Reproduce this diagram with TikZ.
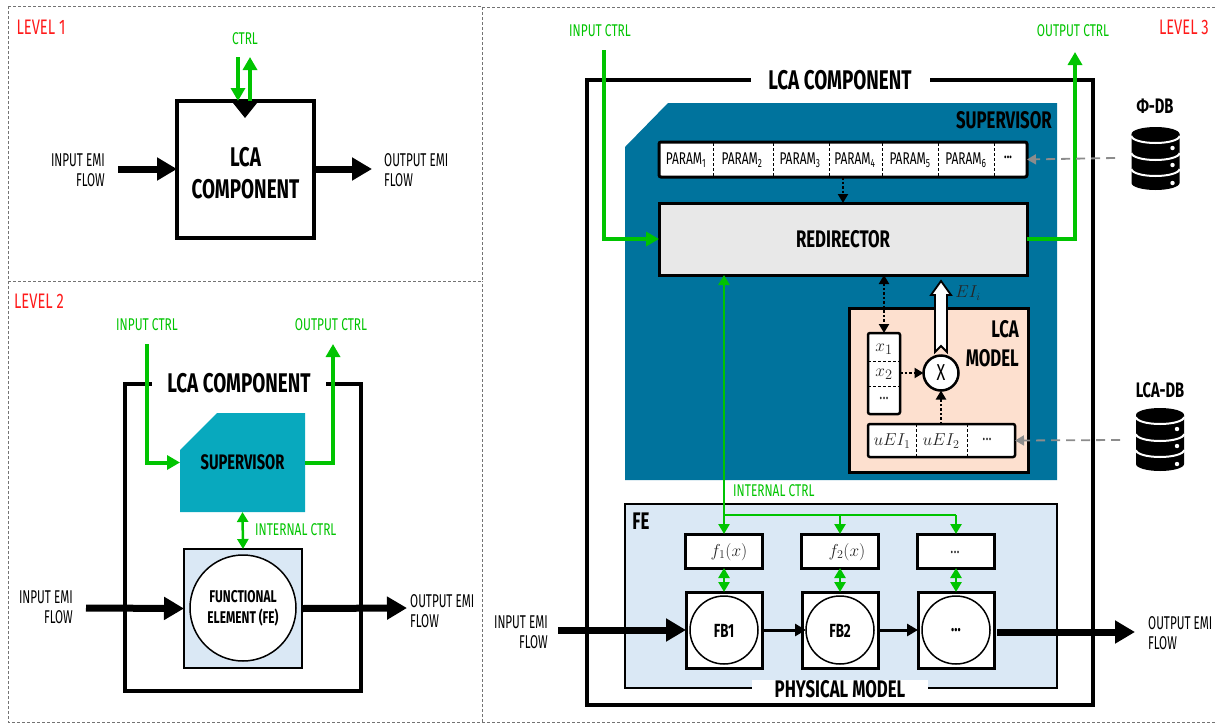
\documentclass[tikz,border=0pt]{standalone}
\usepackage{amsmath}
\usepackage{fontspec}
\setmainfont[FakeStretch=0.7]{Fira Sans}
\newfontfamily\narrowfont[FakeStretch=0.63]{Fira Sans}
\usetikzlibrary{arrows.meta}
\definecolor{ctrlgreen}{HTML}{00C400}
\definecolor{levelred}{HTML}{FF1A1A}
\definecolor{supera}{HTML}{08A9BE}
\definecolor{superb}{HTML}{00739D}
\definecolor{febg}{HTML}{DAE8F5}
\definecolor{lcabg}{HTML}{FDE0CF}
\definecolor{dbgrey}{HTML}{8C8C8C}
\tikzset{
  frame/.style={draw=black!55, line width=0.8pt, dash pattern=on 3pt off 2pt},
  txt/.style={font=\narrowfont\fontsize{18.5}{20}\selectfont, inner sep=0pt},
  txtb/.style={font=\fontsize{24}{29}\selectfont\bfseries, inner sep=0pt},
  level/.style={font=\fontsize{21}{22}\selectfont, text=levelred, inner sep=0pt},
  ctrltxt/.style={font=\fontsize{17}{20}\selectfont, text=ctrlgreen, inner sep=0pt},
  mathtxt/.style={inner sep=0pt, text=black!85, font=\fontsize{#1}{24}\selectfont},
  box/.style={draw, line width=#1, outer sep=0pt, inner sep=0pt},
  box/.default=3pt,
  emi/.style={line width=7pt, -{Triangle[length=20pt,width=22pt]}},
  ctrl/.style={draw=ctrlgreen, line width=4pt, -{Triangle[length=13pt,width=14pt]}},
  ctrlthin/.style={draw=ctrlgreen, line width=2.5pt, {Triangle[length=10pt,width=11pt]}-{Triangle[length=10pt,width=11pt]}},
  branch/.style={draw=ctrlgreen, line width=2.5pt, -{Triangle[length=10pt,width=11pt]}},
  dots/.style={line width=2.2pt, dash pattern=on 2.5pt off 2pt, -{Triangle[length=9pt,width=10pt]}},
  dbline/.style={draw=dbgrey, line width=1.8pt, dash pattern=on 9pt off 6pt, -{Triangle[length=9pt,width=10pt]}},
  divider/.style={line width=0.8pt, dash pattern=on 3pt off 2pt},
}
% database icon: (centre)
\def\dbicon(#1){
  \begin{scope}[shift={(#1)}]
    \fill[black] (-24,-24) -- (24,-24) -- (24,25) arc (0:-180:24pt and 7pt) -- cycle;
    \fill[black] (0,-24) ellipse (24pt and 7pt);
    \foreach \yy in {-22,-5,11} \draw[white, line width=2pt] (-24,\yy) arc (180:360:24pt and 7pt);
    \foreach \yy in {-10,7,25} \fill[white] (17,\yy) circle (2.2pt);
  \end{scope}
}

\begin{document}
\begin{tikzpicture}[x=1pt,y=-1pt]
\useasboundingbox (0,0) rectangle (1215,723);

\draw[frame] (8,6) rectangle (482,281);
\draw[frame] (8,281) -- (8,722) -- (482,722) -- (482,281);
\draw[frame] (482,7) -- (1215,7);
\draw[frame] (482,722) -- (1215,722);

%%% level 1
\node[level] (levelone) at (41,27) {LEVEL 1};
\node[ctrltxt] (ctrlone) at (245,39) {CTRL};
\node[box=4pt, minimum width=137pt, minimum height=137pt] (compone) at (245.5,169.5) {};
\node[txtb, align=center, font=\fontsize{27}{32}\selectfont\bfseries] (componetxt) at (245.5,173) {LCA\\COMPONENT};
\fill (233,103) -- (257,103) -- (245,118) -- cycle;
\coordinate (ctrlinone) at (238,57);
\coordinate (ctrloutone) at (250,57);
\draw[ctrl] (ctrlinone) -- (ctrlinone |- compone.north);
\draw[ctrl] (ctrloutone |- compone.north) -- (ctrloutone);
\node[txt, align=right, anchor=east] (inemione) at (105,170) {INPUT EMI\\FLOW};
\node[txt, align=left, anchor=west] (outemione) at (384,170) {OUTPUT EMI\\FLOW};
\coordinate (instartone) at (118,169);
\coordinate (outendone) at (372,169);
\draw[emi] (instartone) -- (compone.west |- instartone);
\draw[emi] (compone.east |- outendone) -- (outendone);

%%% level 2
\node[level] (leveltwo) at (39,301) {LEVEL 2};
\node[ctrltxt] (inctrltwo) at (147,325) {INPUT CTRL};
\node[ctrltxt] (outctrltwo) at (331,325) {OUTPUT CTRL};
\node[box=4pt, minimum width=236pt, minimum height=307pt] (comptwo) at (243,537) {};
\node[fill=white, inner sep=0pt, minimum width=174pt, minimum height=24pt, font=\fontsize{27}{28}\selectfont\bfseries] (comptwotitle) at (239,383) {LCA COMPONENT};
\fill[supera] (180,450) -- (217,413) -- (305,413) -- (305,512) -- (180,512) -- cycle;
\node[outer sep=0pt, inner sep=0pt, minimum width=125pt, minimum height=99pt, font=\fontsize{21}{24}\selectfont\bfseries] (supertwo) at (242.5,462.5) {SUPERVISOR};
\node[box=2pt, fill=febg, minimum width=118pt, minimum height=119pt] (fetwo) at (243,608.5) {};
\node[box=1.5pt, circle, fill=white, minimum size=106pt, align=center, font=\fontsize{17}{21}\selectfont\bfseries] (funcel) at (243,608) {FUNCTIONAL\\ELEMENT (FE)};
\coordinate (inctrlstart) at (147,344);
\coordinate (outctrlend) at (333,344);
\draw[ctrl] (inctrlstart) |- (supertwo.west);
\draw[ctrl] (supertwo.east) -| (outctrlend);
\draw[ctrlthin] (supertwo.south) -- (fetwo.north);
\node[ctrltxt, anchor=west] (intctrltwo) at (255,530) {INTERNAL CTRL};
\node[txt, align=right, anchor=east] (inemitwo) at (73,607) {INPUT EMI\\FLOW};
\node[txt, align=left, anchor=west] (outemitwo) at (410,611) {OUTPUT EMI\\FLOW};
\coordinate (instarttwo) at (86,608);
\coordinate (outendtwo) at (407,608);
\draw[emi] (instarttwo) -- (fetwo.west);
\draw[emi] (fetwo.east) -- (outendtwo);

%%% level 3
\node[level, anchor=east] (levelthree) at (1209,27) {LEVEL 3};
\node[ctrltxt] (inctrl) at (600,31) {INPUT CTRL};
\node[ctrltxt] (outctrl) at (1073,31) {OUTPUT CTRL};
\node[box=4pt, minimum width=506pt, minimum height=625pt] (comp) at (840,392.5) {};
\node[fill=white, inner sep=0pt, minimum width=179pt, minimum height=24pt, font=\fontsize{27}{28}\selectfont\bfseries] (comptitle) at (840,80) {LCA COMPONENT};
\fill[superb] (625,147) -- (668,103) -- (1057,103) -- (1057,480) -- (625,480) -- cycle;
\node[txtb, anchor=east, font=\fontsize{24}{24}\selectfont\bfseries] (supertxt) at (1052,120) {SUPERVISOR};

% parameters
\node[box, fill=white, rounded corners=2pt, minimum width=368pt, minimum height=35pt] (param) at (843,159.5) {};
\foreach \xx in {713,773,829,882,938,994} \draw[divider] (\xx,143) -- (\xx,176);
\foreach \i/\xx in {1/686,2/742,3/800,4/855,5/910,6/966}
  \node[txt, font=\fontsize{17}{18}\selectfont] (param\i) at (\xx,160) {PARAM\textsubscript{\i}};
\node[txt, font=\fontsize{15}{18}\selectfont\bfseries] (paramdots) at (1008,157) {...};

\node[box, fill=black!9, minimum width=368pt, minimum height=72pt, font=\fontsize{24}{24}\selectfont\bfseries] (redir) at (843,239) {REDIRECTOR};
\draw[dots] (param.south) -- (redir.north);
\coordinate (instart) at (604,50);
\coordinate (outend) at (1075,52);
\draw[ctrl] (instart) |- (redir.west);
\draw[ctrl] (redir.east) -| (outend);

% lca model
\node[box, fill=lcabg, minimum width=179pt, minimum height=164pt] (lca) at (938.5,390) {};
\node[txtb, align=right, anchor=north east] (lcatxt) at (1019,320) {LCA\\MODEL};
\node[box=2.5pt, fill=white, rounded corners=2pt, minimum width=32pt, minimum height=81pt] (xbox) at (884,373.5) {};
\foreach \yy in {361,386} \draw[divider] (xbox.west |- 0,\yy) -- (xbox.east |- 0,\yy);
\node[mathtxt=19] (xone) at (884,349) {$x_1$};
\node[mathtxt=19] (xtwo) at (884,374) {$x_2$};
\node[mathtxt=18] (xdots) at (884,398) {...};
\node[box=2.5pt, circle, fill=white, minimum size=35pt, font=\fontsize{23}{24}\selectfont] (times) at (941,373) {X};
\node[box=2.5pt, fill=white, rounded corners=2pt, minimum width=147pt, minimum height=33pt] (uei) at (941.5,440.5) {};
\foreach \xx in {916,967} \draw[divider] (\xx,424) -- (\xx,457);
\node[mathtxt=16.5] (ueione) at (892,441) {$uEI_1$};
\node[mathtxt=16.5] (ueitwo) at (941,441) {$uEI_2$};
\node[mathtxt=18] (ueidots) at (987,439) {...};
\node[mathtxt=16] (eitxt) at (968,293) {$EI_i$};
\draw[dots] (xbox.east |- times) -- (times.west);
\draw[dots] (uei.north -| times) -- (times.south);
\draw[dots, {Triangle[length=9pt,width=10pt]}-{Triangle[length=9pt,width=10pt]}] (redir.south -| xbox) -- (xbox.north);
\draw[fill=white, line width=1.8pt, line join=miter] (935,352) -- (941,346) -- (947,352) -- (947,295) -- (951,295) -- (941,281) -- (931,295) -- (935,295) -- cycle;

% physical model
\node[box=2.5pt, fill=febg, minimum width=432pt, minimum height=184pt] (fe) at (841,596) {};
\node[txtb] (fetxt) at (641,521) {FE};
\node[fill=white, inner sep=0pt, minimum width=176pt, minimum height=16pt, font=\fontsize{24}{24}\selectfont\bfseries] (phys) at (840,689) {PHYSICAL MODEL};
\foreach \i/\xx in {1/724,2/840,3/956} {
  \node[box, fill=white, minimum width=77pt, minimum height=34pt] (func\i) at (\xx,551) {};
  \node[box, fill=white, minimum width=76pt, minimum height=76pt] (fbox\i) at (\xx,630) {};
  \node[box=1.5pt, circle, fill=white, minimum size=68pt] (fb\i) at (\xx,630) {};
  \draw[ctrlthin] (func\i.south) -- (fbox\i.north);
}
\node[mathtxt=18.5] (ftxtone) at (729,552) {$f_1(x)$};
\node[mathtxt=18.5] (ftxttwo) at (847,552) {$f_2(x)$};
\node[mathtxt=18] (ftxtthree) at (955,552) {...};
\node[txtb, font=\fontsize{19}{20}\selectfont\bfseries] (fbtxtone) at (724,631) {FB1};
\node[txtb, font=\fontsize{19}{20}\selectfont\bfseries] (fbtxttwo) at (840,631) {FB2};
\node[txtb, font=\fontsize{19}{20}\selectfont\bfseries] (fbtxtthree) at (956,630) {...};

% control bus
\coordinate (bus) at (724,515);
\coordinate (busend) at (956,515);
\draw[branch, -] (bus) -- (busend);
\draw[branch] (bus) -- (redir.south -| bus);
\draw[branch] (bus) -- (func1.north);
\draw[branch] (bus -| func2) -- (func2.north);
\draw[branch] (busend) -- (func3.north);
\node[ctrltxt, anchor=west] (intctrl) at (733,491) {INTERNAL CTRL};

% flows
\coordinate (instartthree) at (558,630);
\coordinate (outstartthree) at (997,632);
\coordinate (outendthree) at (1135,632);
\node[txt, align=right, anchor=east] (inemi) at (548,632) {INPUT EMI\\FLOW};
\node[txt, align=left, anchor=west] (outemi) at (1148,633) {OUTPUT EMI\\FLOW};
\draw[emi] (instartthree) -- (fbox1.west);
\draw[line width=3pt, -{Triangle[length=11pt,width=12pt]}] (fbox1.east) -- (fb2.west);
\draw[line width=3pt, -{Triangle[length=11pt,width=12pt]}] (fbox2.east) -- (fbox3.west);
\draw[emi] (outstartthree) -- (outendthree);

% databases
\node[txtb, font=\fontsize{21}{24}\selectfont\bfseries] (phidb) at (1155,106) {Φ-DB};
\node[txtb, font=\fontsize{21}{24}\selectfont\bfseries] (lcadb) at (1160,390) {LCA-DB};
\dbicon(1155.5,158)
\dbicon(1160,439)
\coordinate (phistart) at (1115,158);
\coordinate (lcastart) at (1120,440);
\draw[dbline] (phistart) -- (param.east);
\draw[dbline] (lcastart) -- (uei.east);
\end{tikzpicture}
\end{document}
